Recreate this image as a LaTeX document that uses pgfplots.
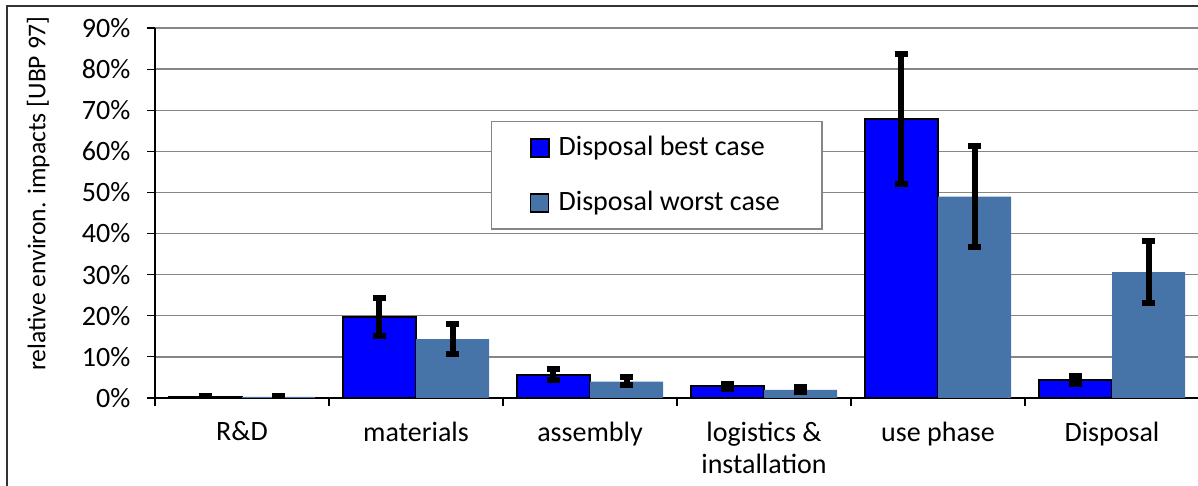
\documentclass[border=0pt]{standalone}
\usepackage{pgfplots}
\pgfplotsset{compat=1.18}
\usepackage{fontspec}
\setmainfont{Carlito}
\definecolor{bestc}{RGB}{0,0,255}
\definecolor{worstc}{RGB}{70,116,168}
\definecolor{gridc}{RGB}{134,134,134}
\begin{document}
\fontsize{14}{16.5}\selectfont
\begin{tikzpicture}
\useasboundingbox (-77.5pt,-44pt) rectangle (521.5pt,199pt);
\draw[black!80, line width=0.8pt] (-74pt,-44pt) -- (-74pt,196pt) -- (525pt,196pt);
\begin{axis}[
  width=522pt, height=185pt, scale only axis,
  at={(0,0)}, anchor=south west,
  ybar=0pt, bar width=0.42,
  xmin=-0.5, xmax=5.5, ymin=0, ymax=90,
  axis x line*=bottom, axis y line*=left,
  axis line style={-, black, line width=0.8pt},
  tick align=outside, major tick length=4pt,
  tick style={black, line width=0.6pt},
  ytick={0,10,...,90},
  yticklabel={\pgfmathprintnumber{\tick}\%},
  yticklabel style={xshift=-3.5pt},
  /pgf/number format/assume math mode=true,
  ymajorgrids, grid style={gridc, line width=0.7pt},
  xtick={-0.5,0.5,...,5.5}, xticklabels={},
  extra x ticks={0,1,2,3,4,5},
  extra x tick labels={R\&D, materials, assembly, {logistics \&\\installation}, use phase, Disposal},
  extra x tick style={major tick length=0pt, tick label style={align=center, yshift=-7pt}},
  ticklabel style={font=\fontsize{14}{16}\selectfont},
  every axis y label/.style={at={(axis description cs:-0.112,0.553)}, rotate=90, anchor=center, font=\fontsize{12.8}{15}\selectfont},
  ylabel={relative environ. impacts [UBP 97]},
  legend style={at={(axis description cs:0.3218,0.7486)}, anchor=north west,
    draw=gridc, line width=0.7pt, fill=white, inner xsep=19pt, inner ysep=5pt,
    row sep=12pt, font=\fontsize{14}{16.5}\selectfont,
    /tikz/every even column/.append style={column sep=4pt},
    /tikz/every odd column/.append style={column sep=2.5pt}},
  legend cell align=left,
  legend image code/.code={\draw[#1] (0pt,-4.5pt) rectangle (9pt,4.5pt);},
  error bars/error bar style={black, line width=3pt},
  error bars/error mark options={black, rotate=90, mark size=3.25pt, line width=3pt},
]
\addplot[fill=bestc, draw=black, line width=1pt,
  error bars/.cd, y dir=both, y explicit]
coordinates {
 (0,0.3) += (0,0.3) -= (0,0.3)
 (1,19.8) += (0,4.6) -= (0,4.6)
 (2,5.7) += (0,1.4) -= (0,1.3)
 (3,2.9) += (0,0.6) -= (0,0.6)
 (4,67.8) += (0,15.9) -= (0,15.7)
 (5,4.3) += (0,1.0) -= (0,1.0)
};
\addplot[fill=worstc, draw=none,
  error bars/.cd, y dir=both, y explicit]
coordinates {
 (0,0.3) += (0,0.3) -= (0,0.3)
 (1,14.3) += (0,3.6) -= (0,3.5)
 (2,4.0) += (0,1.1) -= (0,0.9)
 (3,2.0) += (0,0.6) -= (0,0.5)
 (4,49.0) += (0,12.4) -= (0,12.2)
 (5,30.6) += (0,7.7) -= (0,7.5)
};
\legend{Disposal best case, Disposal worst case}
\end{axis}
\end{tikzpicture}
\end{document}
